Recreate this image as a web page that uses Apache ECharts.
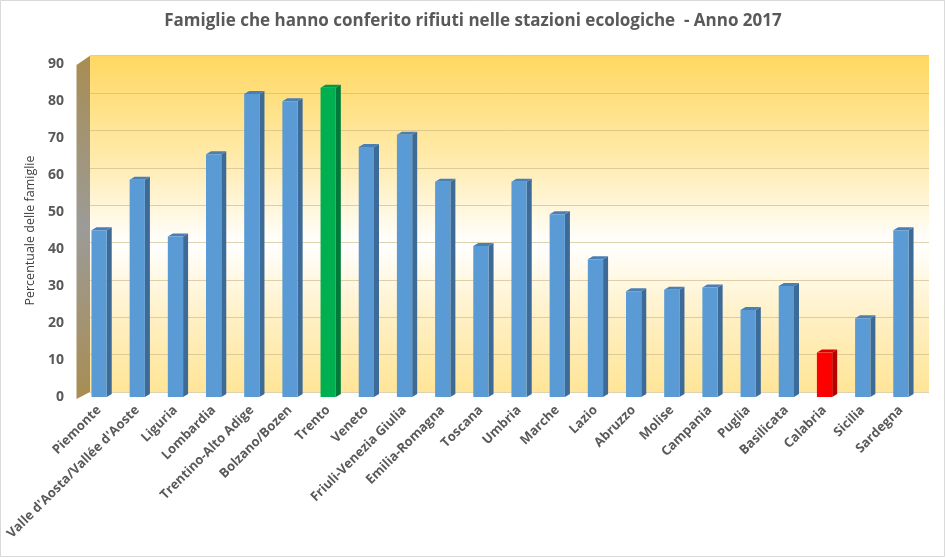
<!DOCTYPE html>
<html>
<head>
<meta charset="utf-8">
<script src="https://cdn.jsdelivr.net/npm/echarts@6/dist/echarts.min.js"></script>
<style>html,body{margin:0;padding:0;background:#fff;}#c{width:946px;height:558px;}</style>
</head>
<body>
<div id="c"></div>
<script>
const categories = ["Piemonte","Valle d'Aosta/Vallée d'Aoste","Liguria","Lombardia","Trentino-Alto Adige","Bolzano/Bozen","Trento","Veneto","Friuli-Venezia Giulia","Emilia-Romagna","Toscana","Umbria","Marche","Lazio","Abruzzo","Molise","Campania","Puglia","Basilicata","Calabria","Sicilia","Sardegna"];
const values = [45.1, 58.7, 43.4, 65.6, 81.9, 79.9, 83.6, 67.6, 70.9, 58.2, 40.8, 58.2, 49.4, 37.2, 28.6, 29.0, 29.6, 23.5, 30.0, 12.0, 21.3, 45.1];
const yTicks = [0,10,20,30,40,50,60,70,80,90];
const titleText = "Famiglie che hanno conferito rifiuti nelle stazioni ecologiche  - Anno 2017";
const yName = "Percentuale delle famiglie";
const highlight = {"Trento": "green", "Calabria": "red"};

const palette = {
  blue: {front: '#5B9BD5', side: '#3D6A96', top: '#4A7FB5'},
  green: {front: '#00B050', side: '#007A38', top: '#009944'},
  red: {front: '#FF0000', side: '#B80000', top: '#D80000'}
};

const chart = echarts.init(document.getElementById('c'), null, {renderer: 'canvas'});

function renderBar(params, api) {
  const idx = api.value(0);
  const v = api.value(1);
  const base = api.coord([idx, 0]);
  const top = api.coord([idx, v]);
  const bw = api.size([1, 0])[0] * 0.4;
  const x0 = base[0] - bw / 2, x1 = base[0] + bw / 2;
  const dx = 5, dy = -3;
  const c = palette[highlight[categories[idx]] || 'blue'];
  return {
    type: 'group',
    children: [
      {type: 'polygon', shape: {points: [[x1, top[1]], [x1 + dx, top[1] + dy], [x1 + dx, base[1] + dy], [x1, base[1]]]}, style: {fill: c.side}},
      {type: 'polygon', shape: {points: [[x0, top[1]], [x0 + dx, top[1] + dy], [x1 + dx, top[1] + dy], [x1, top[1]]]}, style: {fill: c.top}},
      {type: 'rect', shape: {x: x0, y: top[1], width: bw, height: base[1] - top[1]}, style: {fill: c.front}}
    ]
  };
}

const font = '"Open Sans", "Liberation Sans", sans-serif';

const option = {
  animation: false,
  backgroundColor: '#ffffff',
  title: {
    text: titleText,
    left: 'center', top: 8,
    textStyle: {fontFamily: font, fontSize: 17, fontWeight: 'bold', color: '#595959'}
  },
  grid: [
    {left: 90, right: 17, top: 55.7, bottom: 166, show: true, borderWidth: 0,
     backgroundColor: new echarts.graphic.LinearGradient(0, 0, 0, 1, [
       {offset: 0, color: '#FFD862'},
       {offset: 0.3, color: '#FFEAAA'},
       {offset: 0.56, color: '#FFFFFF'},
       {offset: 0.8, color: '#FFEFC0'},
       {offset: 1, color: '#FFE597'}
     ])},
    {left: 80, right: 26, top: 64, bottom: 161}
  ],
  xAxis: [
    {gridIndex: 0, type: 'category', data: categories, show: false},
    {gridIndex: 1, type: 'category', data: categories,
     axisLine: {show: false}, axisTick: {show: false},
     axisLabel: {interval: 0, rotate: 45, margin: 11, fontFamily: font, fontSize: 13, fontWeight: 'bold', color: '#595959'}}
  ],
  yAxis: [
    {gridIndex: 0, type: 'value', min: 0, max: 90, interval: 10,
     axisLabel: {show: false}, axisLine: {show: false}, axisTick: {show: false},
     splitLine: {show: true, lineStyle: {color: 'rgba(200,180,130,0.6)', width: 1}}},
    {gridIndex: 1, type: 'value', min: 0, max: 90, interval: 10,
     name: yName, nameLocation: 'middle', nameGap: 42, nameRotate: 90,
     nameTextStyle: {fontFamily: font, fontSize: 12.5, color: '#404040'},
     axisLine: {show: false}, axisTick: {show: false}, splitLine: {show: false},
     axisLabel: {margin: 16, fontFamily: font, fontSize: 14, fontWeight: 'bold', color: '#595959',
       formatter: function (v) { return yTicks.indexOf(v) >= 0 ? String(v) : ''; }}}
  ],
  graphic: [
    {type: 'rect', shape: {x: 0.5, y: 0.5, width: 944, height: 556}, style: {fill: 'none', stroke: '#d9d9d9', lineWidth: 1}, z: 100},
    {type: 'polygon', shape: {points: [[76.5, 65], [90, 55.7], [90, 392], [76.5, 399]]},
     style: {fill: new echarts.graphic.LinearGradient(0, 0, 0, 1, [
       {offset: 0, color: '#A88D52'},
       {offset: 0.5, color: '#9C9B98'},
       {offset: 1, color: '#A88D52'}
     ])}, z: 1}
  ],
  series: [
    {type: 'custom', xAxisIndex: 1, yAxisIndex: 1, renderItem: renderBar,
     data: values.map(function (v, i) { return [i, v]; }), z: 5}
  ]
};
chart.setOption(option);
</script>
</body>
</html>
